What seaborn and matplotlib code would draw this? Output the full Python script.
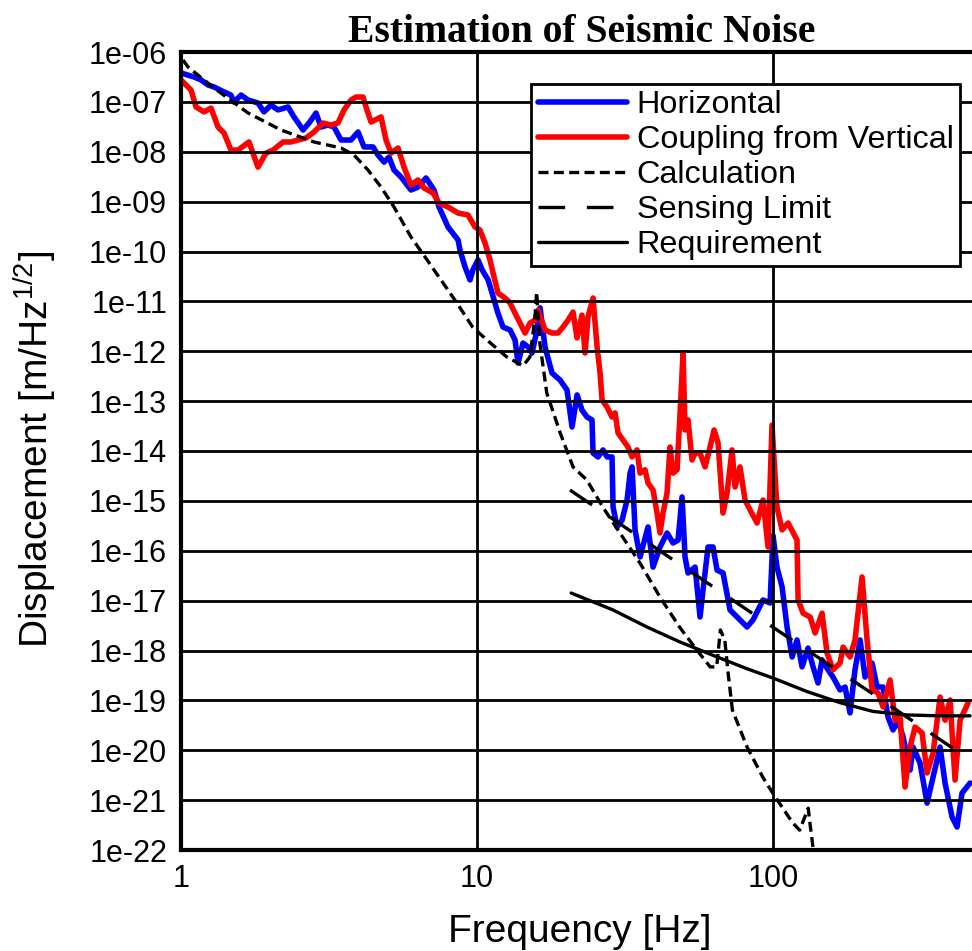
import matplotlib
matplotlib.use("Agg")
import matplotlib.pyplot as plt
from matplotlib.ticker import LogLocator, FuncFormatter, NullFormatter, FixedLocator
import seaborn as sns

# ---------------- data ----------------
freq_h = [1.00, 1.106, 1.169, 1.234, 1.293, 1.397, 1.475, 1.510, 1.595, 1.684,
          1.820, 1.906, 2.014, 2.127, 2.299, 2.409, 2.584, 2.707, 2.858, 2.972,
          3.138, 3.288, 3.471, 3.753, 3.963, 4.152, 4.453, 4.629, 4.851, 5.043,
          5.243, 5.536, 5.984, 6.320, 6.725, 7.155, 7.44, 7.98, 8.63, 8.76,
          9.11, 9.47, 9.69, 10.08, 10.40, 10.90, 11.24, 11.77, 12.24, 12.93,
          13.44, 13.76, 14.30, 14.87, 15.34, 15.95, 16.33, 16.97, 17.92, 19.07,
          20.14, 20.94, 21.78, 22.63, 23.53, 24.46, 24.66, 25.63, 26.65, 27.49,
          28.58, 28.81, 29.72, 30.90, 32.13, 32.89, 33.40, 34.19, 35.54, 37.82,
          39.32, 41.52, 43.85, 45.95, 47.77, 49.27, 50.43, 51.62, 54.52, 56.68,
          58.01, 60.32, 62.71, 64.69, 67.78, 71.57, 75.57, 81.7, 85.6, 92.5,
          97.7, 100.0, 103.1, 107.3, 111.5, 116.0, 120.5, 125.3, 131.3, 136.5,
          141.9, 146.4, 153.4, 159.4, 168.4, 175.1, 182.0, 189.2, 196.8, 204.6,
          216.0, 224.6, 235.3, 244.6, 254.3, 264.4, 274.9, 290.3, 297.2, 313.8,
          331.4, 347.2, 366.7, 381.2, 402.4, 418.4, 435.0, 463.0]
amp_h = [3.8e-7, 3.16e-7, 2.75e-7, 2.18e-7, 1.99e-7, 1.58e-7, 1.37e-7, 9.9e-8, 1.37e-7, 1.09e-7,
         9.5e-8, 6.3e-8, 8.6e-8, 6.9e-8, 7.9e-8, 5.0e-8, 2.73e-8, 3.77e-8, 5.98e-8, 3.13e-8,
         3.44e-8, 3.13e-8, 1.72e-8, 1.72e-8, 2.49e-8, 1.25e-8, 1.25e-8, 8.6e-9, 6.2e-9, 7.8e-9,
         4.3e-9, 3.12e-9, 1.71e-9, 1.96e-9, 2.98e-9, 1.71e-9, 7.8e-10, 3.1e-10, 1.70e-10, 1.07e-10,
         4.9e-11, 2.69e-11, 4.3e-11, 6.8e-11, 4.3e-11, 2.69e-11, 1.47e-11, 5.8e-12, 3.06e-12, 2.67e-12,
         1.68e-12, 5.8e-13, 1.46e-12, 1.22e-12, 9.2e-13, 2.67e-12, 7.4e-12, 1.22e-12, 3.66e-13, 2.65e-13,
         1.67e-13, 3.03e-14, 1.33e-13, 6.6e-14, 4.8e-14, 4.2e-14, 9.1e-15, 7.6e-15, 1.05e-14, 7.6e-15,
         7.6e-15, 7.5e-16, 3.0e-16, 4.1e-16, 1.04e-15, 3.6e-15, 4.8e-15, 2.6e-16, 7.5e-17, 3.0e-16,
         4.7e-17, 1.19e-16, 2.27e-16, 1.43e-16, 1.64e-16, 1.20e-15, 7.5e-17, 3.58e-17, 4.7e-17, 4.7e-18,
         1.63e-17, 1.19e-16, 1.19e-16, 4.1e-17, 3.58e-17, 6.5e-18, 4.7e-18, 2.96e-18, 4.1e-18, 1.03e-17,
         8.97e-18, 2.0e-16, 4.7e-17, 1.88e-17, 2.96e-18, 7.4e-19, 1.63e-18, 4.7e-19, 1.12e-18, 4.7e-19,
         2.23e-19, 6.5e-19, 4.1e-19, 2.94e-19, 1.62e-19, 1.85e-19, 5.6e-20, 4.1e-19, 1.63e-18, 2.94e-19,
         5.6e-19, 1.85e-19, 1.85e-19, 4.6e-20, 2.55e-20, 4.0e-20, 1.85e-20, 4.0e-21, 1.16e-20, 5.5e-21,
         8.7e-22, 2.91e-21, 1.16e-20, 2.2e-21, 4.6e-22, 2.89e-22, 1.39e-21, 2.2e-21]

freq_v = [1.00, 1.081, 1.124, 1.196, 1.263, 1.334, 1.397, 1.475, 1.558, 1.697,
          1.820, 1.937, 2.046, 2.211, 2.353, 2.485, 2.644, 2.814, 3.018, 3.213,
          3.391, 3.554, 3.753, 3.902, 4.120, 4.217, 4.385, 4.740, 4.928, 5.124,
          5.410, 5.668, 5.984, 6.320, 6.622, 7.10, 7.44, 7.98, 8.63, 9.32,
          9.84, 10.23, 10.64, 11.06, 11.33, 11.77, 12.43, 12.93, 13.44, 13.97,
          14.53, 15.10, 15.70, 16.07, 16.97, 17.92, 18.77, 19.52, 20.30, 21.10,
          21.77, 22.63, 23.17, 23.71, 24.66, 25.44, 26.04, 26.45, 27.49, 28.58,
          29.26, 29.95, 31.13, 32.37, 33.40, 34.71, 35.54, 36.95, 37.82, 39.32,
          40.56, 41.52, 42.49, 43.85, 44.87, 45.95, 47.40, 48.52, 49.66, 50.43,
          51.62, 53.25, 54.52, 56.68, 58.94, 61.27, 63.21, 65.20, 67.78, 69.93,
          72.70, 74.41, 77.35, 80.42, 83.6, 88.3, 92.5, 96.2, 99.2, 103.1,
          107.3, 112.4, 120.5, 121.5, 126.3, 133.4, 138.7, 146.4, 152.2, 159.4,
          168.4, 172.4, 182.0, 189.2, 199.8, 207.8, 216.0, 226.3, 235.3, 248.5,
          258.4, 268.6, 279.2, 290.3, 301.8, 318.7, 331.4, 347.2, 366.7, 381.2,
          396.3, 411.9, 428.4, 455.9]
amp_v = [2.75e-7, 1.73e-7, 7.9e-8, 6.3e-8, 7.5e-8, 3.13e-8, 2.38e-8, 1.08e-8, 1.08e-8, 1.57e-8,
         4.9e-9, 9.4e-9, 1.08e-8, 1.57e-8, 1.57e-8, 1.72e-8, 1.89e-8, 2.49e-8, 3.77e-8, 3.44e-8,
         3.77e-8, 6.9e-8, 1.09e-7, 1.25e-7, 1.25e-7, 7.9e-8, 3.94e-8, 5.0e-8, 1.72e-8, 9.4e-9,
         1.19e-8, 4.9e-9, 2.15e-9, 2.72e-9, 1.88e-9, 1.49e-9, 9.4e-10, 7.8e-10, 5.9e-10, 5.4e-10,
         3.1e-10, 2.70e-10, 1.48e-10, 6.8e-11, 3.71e-11, 1.47e-11, 1.17e-11, 9.3e-12, 5.8e-12, 3.68e-12,
         2.32e-12, 3.68e-12, 4.2e-12, 6.7e-12, 2.67e-12, 2.32e-12, 2.32e-12, 3.06e-12, 4.2e-12, 6.1e-12,
         1.85e-12, 5.3e-12, 9.2e-13, 4.9e-12, 1.17e-11, 1.22e-12, 3.66e-13, 1.05e-13, 7.6e-14, 4.8e-14,
         5.8e-14, 2.30e-14, 1.66e-14, 1.20e-14, 7.6e-15, 1.05e-14, 3.6e-15, 4.2e-15, 2.28e-15, 1.65e-15,
         5.7e-16, 2.27e-16, 5.7e-16, 1.44e-15, 1.20e-14, 3.6e-15, 4.2e-15, 5.8e-14, 9.2e-13, 2.64e-14,
         4.2e-14, 6.6e-15, 9.1e-15, 9.1e-15, 4.8e-15, 1.20e-14, 2.64e-14, 1.45e-14, 5.7e-16, 1.44e-15,
         1.05e-14, 1.90e-15, 4.8e-15, 1.04e-15, 6.6e-16, 3.6e-16, 1.04e-15, 1.19e-16, 3.3e-14, 7.5e-16,
         2.61e-16, 3.6e-16, 1.64e-16, 1.03e-17, 5.6e-18, 4.7e-18, 2.25e-18, 5.6e-18, 8.9e-19, 4.1e-19,
         5.6e-19, 1.17e-18, 7.4e-19, 1.63e-18, 2.98e-17, 1.63e-18, 1.62e-19, 1.41e-19, 7.4e-20, 2.56e-19,
         4.0e-20, 4.6e-20, 1.83e-21, 1.16e-20, 2.92e-20, 2.22e-20, 3.5e-21, 8.8e-21, 1.17e-19, 4.0e-20,
         1.02e-19, 2.53e-21, 4.0e-20, 8.9e-20]

freq_c = [1.016, 1.056, 1.293, 1.684, 2.177, 2.814, 3.471, 3.841, 4.283, 4.739,
          5.243, 5.984, 6.78, 8.55, 9.66, 10.8, 12.6, 14.3, 15.1, 15.7,
          15.9, 16.3, 17.2, 19.1, 21.1, 23.5, 26.6, 30.4, 35.5, 41.5,
          48.3, 55.3, 61.3, 64.5, 66.4, 68.7, 70.3, 72.9, 81.7, 92.3,
          99.7, 116.5, 123.0, 131.5, 133.2, 136.4, 139.0]
amp_c = [6.9e-7, 5.0e-7, 1.90e-7, 6.0e-8, 2.73e-8, 1.57e-8, 1.19e-8, 8.6e-9, 4.3e-9, 1.96e-9,
         7.8e-10, 1.95e-10, 6.8e-11, 9.3e-12, 3.06e-12, 1.68e-12, 7.7e-13, 5.1e-13, 7.7e-13, 4.9e-12,
         1.54e-11, 1.46e-12, 1.46e-13, 2.3e-14, 4.8e-15, 2.62e-15, 7.5e-16, 2.27e-16, 5.7e-17, 1.18e-17,
         2.96e-18, 1.02e-18, 4.7e-19, 4.7e-19, 2.58e-18, 1.63e-18, 4.1e-19, 6.4e-20, 1.16e-20, 2.9e-21,
         1.39e-21, 3.5e-22, 2.5e-22, 6.9e-22, 3.5e-22, 1.15e-22, 6.3e-23]

freq_s = [20.6, 97.7, 208.0, 463.0]
amp_s = [1.65e-15, 3.2e-18, 1.6e-19, 6.4e-21]

freq_r = [20.8, 28.8, 37.5, 48.5, 62.7, 81.7, 100.0, 130.3, 168.4, 217.7, 283.6, 366.7, 463.0]
amp_r = [1.42e-17, 6.5e-18, 2.96e-18, 1.48e-18, 8.0e-19, 4.3e-19, 2.8e-19, 1.5e-19,
         9.0e-20, 6.0e-20, 5.1e-20, 4.9e-20, 4.9e-20]

series_labels = ["Horizontal", "Coupling from Vertical", "Calculation",
                 "Sensing Limit", "Requirement"]
x_ticks = [1, 10, 100]
x_tick_labels = ["1", "10", "100"]

# ---------------- style ----------------
sns.set_style("white")
plt.rcParams["font.family"] = ["Liberation Sans", "DejaVu Sans"]
plt.rcParams["mathtext.fontset"] = "custom"
plt.rcParams["mathtext.rm"] = "Liberation Sans"
plt.rcParams["mathtext.it"] = "Liberation Sans"
for key in ["text.color", "axes.labelcolor", "xtick.color", "ytick.color",
            "axes.edgecolor"]:
    plt.rcParams[key] = "black"

W, H = 972, 951
fig = plt.figure(figsize=(W / 100, H / 100), dpi=100)
ax = fig.add_axes([181 / W, 101 / H, 791 / W, 798 / H])
ax.set_xscale("log")
ax.set_yscale("log")

sns.lineplot(x=freq_h, y=amp_h, ax=ax, color="#0000ff",
             estimator=None, sort=False, label=series_labels[0])
sns.lineplot(x=freq_v, y=amp_v, ax=ax, color="#ff0000",
             estimator=None, sort=False, label=series_labels[1])
sns.lineplot(x=freq_c, y=amp_c, ax=ax, color="black",
             estimator=None, sort=False, label=series_labels[2])
sns.lineplot(x=freq_s, y=amp_s, ax=ax, color="black",
             estimator=None, sort=False, label=series_labels[3])
sns.lineplot(x=freq_r, y=amp_r, ax=ax, color="black",
             estimator=None, sort=False, label=series_labels[4])

line_widths = [4.0, 4.0, 2.4, 2.4, 2.4]
line_dashes = [None, None, (3.0, 1.6), (8.0, 6.5), None]
for line, lw, dsh in zip(ax.lines, line_widths, line_dashes):
    line.set_linewidth(lw)
    if dsh is not None:
        line.set_dashes(dsh)
    line.set_solid_joinstyle("round")
    line.set_solid_capstyle("round")

ax.set_xlim(1, 470)
ax.set_ylim(1e-22, 1e-6)

# ticks
ax.xaxis.set_major_locator(FixedLocator(x_ticks))
ax.xaxis.set_major_formatter(FuncFormatter(
    lambda v, p: x_tick_labels[x_ticks.index(int(round(v)))] if int(round(v)) in x_ticks else ""))
ax.xaxis.set_minor_locator(LogLocator(base=10, subs=range(2, 10), numticks=100))
ax.xaxis.set_minor_formatter(NullFormatter())
ax.yaxis.set_major_locator(LogLocator(base=10, numticks=100))
ax.yaxis.set_major_formatter(FuncFormatter(lambda v, p: f"{v:.0e}"))
ax.yaxis.set_minor_locator(LogLocator(base=10, subs=range(2, 10), numticks=100))
ax.yaxis.set_minor_formatter(NullFormatter())
ax.tick_params(which="both", direction="in", top=False, right=False,
               colors="black", labelsize=22)
ax.tick_params(which="major", length=0, pad=10)
ax.tick_params(which="minor", length=8, width=1.5)

# grid
ax.grid(True, which="major", color="black", lw=2.0)
ax.grid(False, which="minor")
ax.set_axisbelow(False)

for side in ["left", "bottom", "top"]:
    ax.spines[side].set_visible(True)
    ax.spines[side].set_color("black")
    ax.spines[side].set_linewidth(3.0)
ax.spines["right"].set_visible(False)

# labels
ax.set_xlabel("Frequency [Hz]", fontsize=28)
ax.set_ylabel("Displacement [m/Hz$^{1/2}$]", fontsize=28)
ax.xaxis.set_label_coords((580 - 181) / 791, (19 - 101) / 798)
ax.xaxis.label.set_va("center")
ax.yaxis.set_label_coords((35 - 181) / 791, (502 - 101) / 798)
ax.yaxis.label.set_va("center")

fig.text(581.5 / W, 1 - 42 / H, "Estimation of Seismic Noise",
         family=["Liberation Serif", "DejaVu Serif"], fontweight="bold",
         fontsize=28.5, ha="center", va="baseline", color="black")

leg = ax.legend(loc="upper right",
                bbox_to_anchor=((960 - 181) / 791, (867 - 101) / 798),
                frameon=True, fancybox=False, edgecolor="black", framealpha=1,
                fontsize=23.3, handlelength=2.75, handletextpad=0.3,
                labelspacing=0.15, borderpad=0.2, borderaxespad=0)
leg.get_frame().set_linewidth(2.0)
leg.set_zorder(10)

fig.savefig("out.png", dpi=100)
